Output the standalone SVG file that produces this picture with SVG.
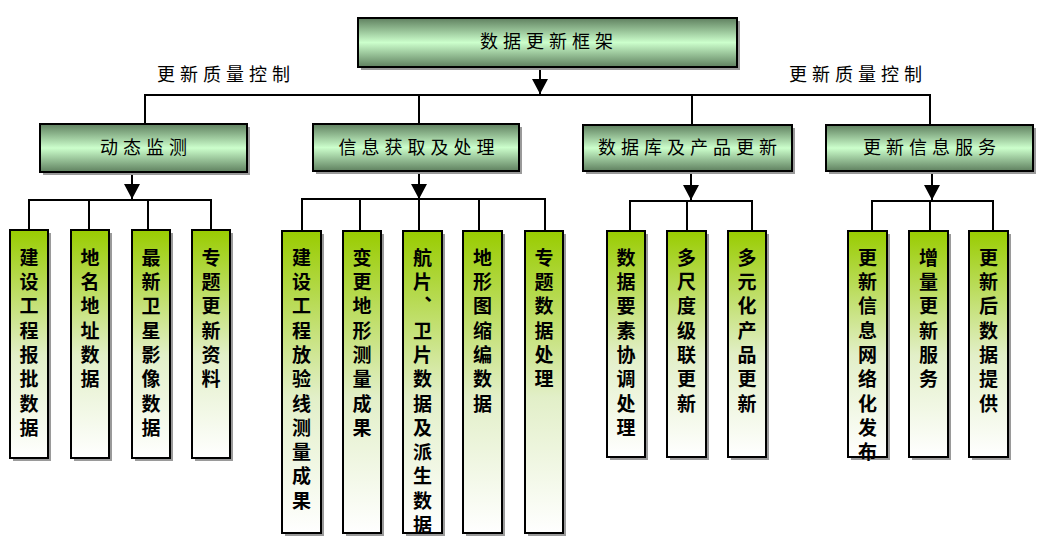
<svg xmlns="http://www.w3.org/2000/svg" width="1040" height="542" viewBox="0 0 1040 542">
<defs>
<linearGradient id="gMain" x1="0" y1="0" x2="0" y2="1">
<stop offset="0" stop-color="#5f805f"/>
<stop offset="0.5" stop-color="#ccffcc"/>
<stop offset="1" stop-color="#5f805f"/>
</linearGradient>
<linearGradient id="gLeaf" x1="0" y1="0" x2="0" y2="1">
<stop offset="0" stop-color="#99cc00"/>
<stop offset="0.55" stop-color="#e2efc8"/>
<stop offset="1" stop-color="#ffffff"/>
</linearGradient>
<marker id="arr" markerUnits="userSpaceOnUse" markerWidth="16" markerHeight="16" viewBox="0 0 16 16" refX="15" refY="8" orient="auto">
<path d="M0,0 L15,8 L0,16 Z" fill="#000"/>
</marker>
</defs>
<style>
.sh{fill:#9a9a9a}
.main{fill:url(#gMain);stroke:#000;stroke-width:2}
.leaf{fill:url(#gLeaf);stroke:#000;stroke-width:2}
.t{font-family:"Noto Sans CJK SC","Noto Sans CJK JP",sans-serif;font-size:18px;fill:#000;letter-spacing:5px;text-anchor:middle}
.lt{font-family:"Noto Sans CJK SC","Noto Sans CJK JP",sans-serif;font-size:19px;font-weight:bold;fill:#000;writing-mode:vertical-rl;letter-spacing:5.3px}
.c{fill:none;stroke:#000;stroke-width:2}
</style>
<g id="connectors">
<path class="c" d="M540,67 V94" marker-end="url(#arr)"/>
<path class="c" d="M145,124 V95 H930 V124 M419,95 V124 M692,95 V124"/>
<path class="c" d="M132,172 V199" marker-end="url(#arr)"/>
<path class="c" d="M419,172 V199" marker-end="url(#arr)"/>
<path class="c" d="M691,172 V200" marker-end="url(#arr)"/>
<path class="c" d="M932,172 V200" marker-end="url(#arr)"/>
<path class="c" d="M29,230 V200 H211 V230 M89,200 V230 M148,200 V230"/>
<path class="c" d="M302,231 V199 H545 V231 M360,199 V231 M419,199 V231 M479,199 V231"/>
<path class="c" d="M630,231 V201 H752 V231 M687,201 V231"/>
<path class="c" d="M872,231 V201 H993 V231 M930,201 V231"/>
</g>
<g id="label-left"><text class="t" x="226" y="81">更新质量控制</text></g>
<g id="label-right"><text class="t" x="858" y="81">更新质量控制</text></g>
<g id="root">
<rect class="sh" x="361" y="21" width="379" height="49"/>
<rect class="main" x="358" y="18" width="379" height="49"/>
<text class="t" x="549" y="48">数据更新框架</text>
</g>
<g id="n-dongtai">
<rect class="sh" x="43" y="127" width="207" height="48"/>
<rect class="main" x="40" y="124" width="207" height="48"/>
<text class="t" x="146" y="154">动态监测</text>
</g>
<g id="n-xinxi">
<rect class="sh" x="316" y="127" width="206" height="47"/>
<rect class="main" x="313" y="124" width="206" height="47"/>
<text class="t" x="419" y="154">信息获取及处理</text>
</g>
<g id="n-shujuku">
<rect class="sh" x="586" y="128" width="209" height="46"/>
<rect class="main" x="583" y="125" width="209" height="46"/>
<text class="t" x="690" y="154">数据库及产品更新</text>
</g>
<g id="n-fuwu">
<rect class="sh" x="829" y="128" width="207" height="46"/>
<rect class="main" x="826" y="125" width="207" height="46"/>
<text class="t" x="932" y="154">更新信息服务</text>
</g>
<g id="l1"><rect class="sh" x="13" y="233" width="38" height="228"/><rect class="leaf" x="10" y="230" width="38" height="228"/><text class="lt" x="29" y="248">建设工程报批数据</text></g>
<g id="l2"><rect class="sh" x="74" y="233" width="38" height="228"/><rect class="leaf" x="71" y="230" width="38" height="228"/><text class="lt" x="90" y="248">地名地址数据</text></g>
<g id="l3"><rect class="sh" x="135" y="233" width="38" height="228"/><rect class="leaf" x="132" y="230" width="38" height="228"/><text class="lt" x="151" y="248">最新卫星影像数据</text></g>
<g id="l4"><rect class="sh" x="195" y="233" width="38" height="228"/><rect class="leaf" x="192" y="230" width="38" height="228"/><text class="lt" x="211" y="248">专题更新资料</text></g>
<g id="l5"><rect class="sh" x="285" y="234" width="39" height="302"/><rect class="leaf" x="282" y="231" width="39" height="302"/><text class="lt" x="301.5" y="248">建设工程放验线测量成果</text></g>
<g id="l6"><rect class="sh" x="346" y="234" width="38" height="302"/><rect class="leaf" x="343" y="231" width="38" height="302"/><text class="lt" x="362" y="248">变更地形测量成果</text></g>
<g id="l7"><rect class="sh" x="406" y="234" width="39" height="302"/><rect class="leaf" x="403" y="231" width="39" height="302"/><text class="lt" x="422.5" y="248">航片、卫片数据及派生数据</text></g>
<g id="l8"><rect class="sh" x="466" y="234" width="39" height="302"/><rect class="leaf" x="463" y="231" width="39" height="302"/><text class="lt" x="482.5" y="248">地形图缩编数据</text></g>
<g id="l9"><rect class="sh" x="528" y="234" width="38" height="302"/><rect class="leaf" x="525" y="231" width="38" height="302"/><text class="lt" x="544" y="248">专题数据处理</text></g>
<g id="l10"><rect class="sh" x="610" y="234" width="38" height="226"/><rect class="leaf" x="607" y="231" width="38" height="226"/><text class="lt" x="626" y="248">数据要素协调处理</text></g>
<g id="l11"><rect class="sh" x="670" y="234" width="39" height="226"/><rect class="leaf" x="667" y="231" width="39" height="226"/><text class="lt" x="686.5" y="248">多尺度级联更新</text></g>
<g id="l12"><rect class="sh" x="731" y="234" width="38" height="226"/><rect class="leaf" x="728" y="231" width="38" height="226"/><text class="lt" x="747" y="248">多元化产品更新</text></g>
<g id="l13"><rect class="sh" x="851" y="234" width="39" height="226"/><rect class="leaf" x="848" y="231" width="39" height="226"/><text class="lt" x="867.5" y="248">更新信息网络化发布</text></g>
<g id="l14"><rect class="sh" x="912" y="234" width="39" height="226"/><rect class="leaf" x="909" y="231" width="39" height="226"/><text class="lt" x="928.5" y="248">增量更新服务</text></g>
<g id="l15"><rect class="sh" x="972" y="234" width="39" height="226"/><rect class="leaf" x="969" y="231" width="39" height="226"/><text class="lt" x="988.5" y="248">更新后数据提供</text></g>
</svg>
